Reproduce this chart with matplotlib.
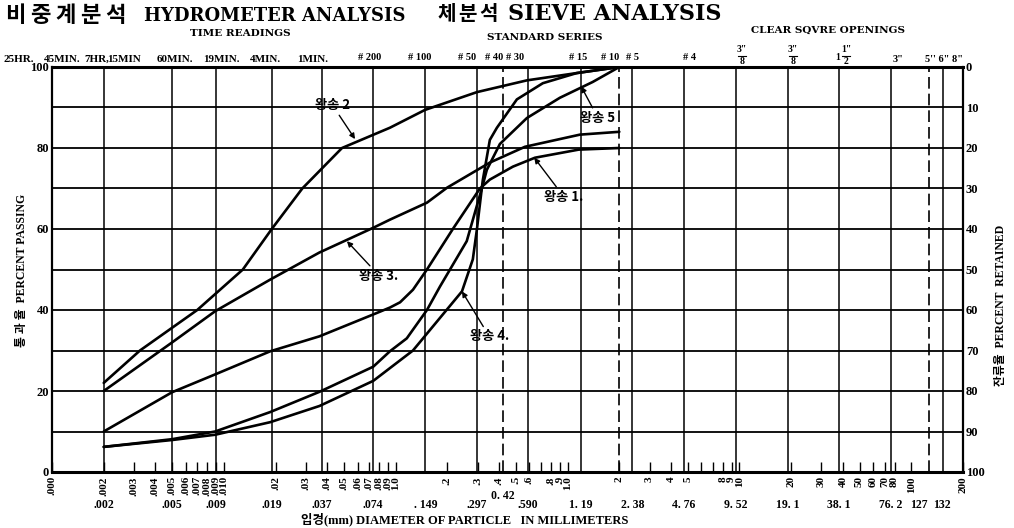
import matplotlib
matplotlib.use("Agg")
import matplotlib.pyplot as plt
from matplotlib.transforms import blended_transform_factory

# ---- grain-size data: diameter (mm) vs percent passing ----
size_w1 = [0.002, 0.005, 0.0089, 0.0186, 0.036, 0.074, 0.0925, 0.106, 0.126, 0.152, 0.215, 0.309, 0.353, 0.481, 0.646, 1.16, 2.0]
pass_w1 = [10, 19.7, 24.1, 29.8, 33.5, 38.9, 40.6, 41.9, 45, 50, 60, 70, 72.2, 75.4, 77.6, 79.6, 80]

size_w2 = [0.002, 0.00325, 0.0070, 0.0129, 0.019, 0.0286, 0.0487, 0.0925, 0.148, 0.297, 0.58, 1.13, 2.0]
pass_w2 = [22, 30, 40, 50, 60, 70, 80, 85, 89.4, 93.8, 96.7, 98.5, 100]

size_w3 = [0.002, 0.005, 0.0089, 0.0186, 0.036, 0.074, 0.0925, 0.152, 0.199, 0.353, 0.565, 1.18, 2.0]
pass_w3 = [20, 32, 39.7, 47.5, 54.2, 60.3, 62.3, 66.5, 70.2, 76.4, 80.3, 83.3, 84]

size_w4 = [0.002, 0.005, 0.0089, 0.0186, 0.036, 0.074, 0.126, 0.243, 0.281, 0.297, 0.321, 0.353, 0.388, 0.507, 0.718, 1.13, 2.0]
pass_w4 = [6.2, 7.9, 9.2, 12.3, 16.3, 22.5, 30, 44.6, 52.5, 60, 72, 82, 85, 92, 96, 98.5, 100]

size_w5 = [0.002, 0.005, 0.0089, 0.0186, 0.036, 0.074, 0.0925, 0.116, 0.152, 0.181, 0.259, 0.317, 0.339, 0.404, 0.58, 0.902, 1.40, 2.0]
pass_w5 = [6.2, 8.1, 10, 14.8, 19.8, 26, 29.8, 33, 40, 45.8, 57, 70, 74.6, 81, 87.4, 92.4, 96.3, 100]

curve_names = ["왕송 1.", "왕송 2", "왕송 3.", "왕송 4.", "왕송 5"]

# vertical grid (standard sieve sizes, mm); dashed ones separately
grid_solid = [0.002, 0.005, 0.009, 0.019, 0.037, 0.074, 0.149, 0.297, 0.59, 1.19, 2.38,
              4.76, 9.52, 19.1, 38.1, 76.2, 152]
grid_dashed = [0.42, 2.0, 127]

# bottom scale (rotated)
scale_ticks = [0.001, 0.002, 0.003, 0.004, 0.005, 0.006, 0.007, 0.008, 0.009, 0.010,
               0.02, 0.03, 0.04, 0.05, 0.06, 0.07, 0.08, 0.09, 0.10,
               0.2, 0.3, 0.4, 0.5, 0.6, 0.7, 0.8, 0.9, 1.0,
               2, 3, 4, 5, 6, 7, 8, 9, 10, 20, 30, 40, 50, 60, 70, 80, 100, 200]
scale_labels = [".000", ".002", ".003", ".004", ".005", ".006", ".007", ".008", ".009", ".010",
                ".02", ".03", ".04", ".05", ".06", ".07", ".08", ".09", "1.0",
                ".2", ".3", ".4", ".5", ".6", "", ".8", ".9", "1.0",
                "2", "3", "4", "5", "", "", "8", "9", "10", "20", "30", "40", "50", "60", "70", "80", "100", "200"]

# sieve opening labels under the scale
sieve_mm = [0.002, 0.005, 0.009, 0.019, 0.037, 0.074, 0.149, 0.297, 0.590, 1.19, 2.38,
            4.76, 9.52, 19.1, 38.1, 76.2, 110, 150]
sieve_text = [".002", ".005", ".009", ".019", ".037", ".074", ". 149", ".297", ".590", "1. 19", "2. 38",
              "4. 76", "9. 52", "19. 1", "38. 1", "76. 2", "127", "132"]

W, H = 1014, 528
SERIF = ["Liberation Serif", "Noto Sans CJK KR"]
WIDE = ["DejaVu Serif", "Noto Sans CJK KR"]
KR = ["Noto Sans CJK KR", "Liberation Serif"]

fig = plt.figure(figsize=(W / 100, H / 100), dpi=100)
ax = fig.add_axes([52 / W, 1 - 472 / H, (963 - 52) / W, (472 - 67) / H])


def ftext(x, y, s, **kw):
    kw.setdefault("family", SERIF)
    kw.setdefault("fontweight", "bold")
    fig.text(x / W, 1 - y / H, s, **kw)


ax.set_xscale("log")
ax.set_xlim(0.001, 200)
ax.set_ylim(0, 100)

# grid
for yv in range(10, 100, 10):
    ax.axhline(yv, color="black", lw=1.3, zorder=1)
for xv in grid_solid:
    ax.axvline(xv, color="black", lw=1.1, zorder=1)
for xv in grid_dashed:
    ax.axvline(xv, color="black", lw=1.2, ls=(0, (7, 3)), zorder=1)

# curves
series = [(size_w1, pass_w1), (size_w2, pass_w2), (size_w3, pass_w3),
          (size_w4, pass_w4), (size_w5, pass_w5)]
for sx, sy in series:
    ax.plot(sx, sy, color="black", lw=1.9, zorder=3, solid_capstyle="round")

# curve labels with pointer arrows
arrow = dict(arrowstyle="-|>", color="black", lw=1.0, mutation_scale=8, shrinkA=0, shrinkB=0)
lab_kw = dict(family=KR, fontsize=9.5, fontweight="bold", ha="center", va="center")
ax.annotate(curve_names[0], xy=(0.64, pass_w1[14]), xytext=(0.95, 68), arrowprops=arrow, **lab_kw)
ax.annotate(curve_names[1], xy=(0.058, 82.2), xytext=(0.043, 90.5), arrowprops=arrow, **lab_kw)
ax.annotate(curve_names[2], xy=(0.052, 57), xytext=(0.08, 48.5), arrowprops=arrow, **lab_kw)
ax.annotate(curve_names[3], xy=(0.243, 44.6), xytext=(0.35, 33.5), arrowprops=arrow, **lab_kw)
ax.annotate(curve_names[4], xy=(1.2, 95.2), xytext=(1.5, 87.5), arrowprops=arrow, **lab_kw)

# spines
for side in ("top", "bottom"):
    ax.spines[side].set_linewidth(2.2)
for side in ("left", "right"):
    ax.spines[side].set_linewidth(1.6)

# left axis: percent passing
ax.set_yticks(range(0, 101, 20))
ax.set_yticklabels([str(v) for v in range(0, 101, 20)], family=SERIF, fontsize=9, fontweight="bold")
ax.set_yticks(range(0, 101, 10), minor=True)
ax.tick_params(axis="y", which="both", direction="in", length=0, pad=2)

# bottom scale
ax.set_xticks(scale_ticks)
ax.set_xticklabels(scale_labels, rotation=90, family=SERIF, fontsize=8, fontweight="bold")
ax.xaxis.set_minor_locator(plt.NullLocator())
ax.tick_params(axis="x", which="major", direction="in", length=7, width=1.0, pad=3)

# right axis: percent retained
ax2 = ax.twinx()
ax2.set_ylim(100, 0)
ax2.set_yticks(range(0, 101, 10))
ax2.set_yticklabels([str(v) for v in range(0, 101, 10)], family=SERIF, fontsize=9, fontweight="bold")
ax2.tick_params(axis="y", direction="in", length=0, pad=2)
for s in ax2.spines.values():
    s.set_visible(False)

# opening sizes row
tr = blended_transform_factory(ax.transData, fig.transFigure)
for xv, t in zip(sieve_mm, sieve_text):
    fig.text(xv, 1 - 505 / H, t, transform=tr, ha="center", va="center",
             family=SERIF, fontsize=8.5, fontweight="bold")
fig.text(0.42, 1 - 496 / H, "0. 42", transform=tr, ha="center", va="center",
         family=SERIF, fontsize=8.5, fontweight="bold")

# titles (Korean characters set one by one)
for i, ch in enumerate("비중계분석"):
    ftext(5 + i * 25, 16, ch, family=KR, fontsize=16, va="center", ha="left")
ftext(144, 16, "HYDROMETER ANALYSIS", family=WIDE, fontsize=13, va="center", ha="left")
for i, ch in enumerate("체분석"):
    ftext(437 + i * 21, 14, ch, family=KR, fontsize=14.5, va="center", ha="left")
ftext(508, 14, "SIEVE ANALYSIS", family=WIDE, fontsize=16, va="center", ha="left")
ftext(240, 33, "TIME READINGS", family=WIDE, fontsize=7.5, va="center", ha="center")
ftext(545, 38, "STANDARD SERIES", family=WIDE, fontsize=7.5, va="center", ha="center")
ftext(828, 30, "CLEAR SQVRE OPENINGS", family=WIDE, fontsize=7.5, va="center", ha="center")

# time readings row
time_text = ["25HR.", "45MIN.", "7HR,", "15MIN", "60MIN.", "19MIN.", "4MIN.", "1MIN."]
time_x = [4, 44, 84, 107, 157, 203, 250, 297]
for t, xx in zip(time_text, time_x):
    ftext(xx, 59, t, fontsize=8, va="center", ha="left")

# sieve numbers row
sieve_no = ["# 200", "# 100", "# 50", "# 40", "# 30", "# 15", "# 10", "# 5", "# 4"]
sieve_no_x = [370, 420, 467, 494, 515, 578, 610, 633, 690]
for t, xx in zip(sieve_no, sieve_no_x):
    ftext(xx, 58, t, fontsize=7.5, va="center", ha="center")

# inch openings
ftext(742, 50, '3"', fontsize=7, va="center", ha="center")
ftext(742, 62, "8", fontsize=7, va="center", ha="center")
ftext(793, 50, '3"', fontsize=7, va="center", ha="center")
ftext(793, 62, "8", fontsize=7, va="center", ha="center")
ftext(838, 57, "1", fontsize=7, va="center", ha="center")
ftext(846, 50, '1"', fontsize=7, va="center", ha="center")
ftext(846, 62, "2", fontsize=7, va="center", ha="center")
for xx in (742, 793, 846):
    fig.add_artist(plt.Line2D([(xx - 4) / W, (xx + 4) / W], [1 - 56 / H, 1 - 56 / H],
                              color="black", lw=0.8))
ftext(898, 60, '3"', fontsize=7.5, va="center", ha="center")
ftext(944, 60, "5'' 6\" 8\"", fontsize=7.5, va="center", ha="center")

# axis titles
ftext(22, 270, "통 과 율  PERCENT PASSING", fontsize=8.5, rotation=90, va="center", ha="center")
ftext(1001, 305, "잔류율  PERCENT  RETAINED", fontsize=8.5, rotation=90, va="center", ha="center")
ftext(465, 519, "입경(mm) DIAMETER OF PARTICLE   IN MILLIMETERS", fontsize=9, va="center", ha="center")

fig.savefig("out.png", dpi=100, facecolor="white")
